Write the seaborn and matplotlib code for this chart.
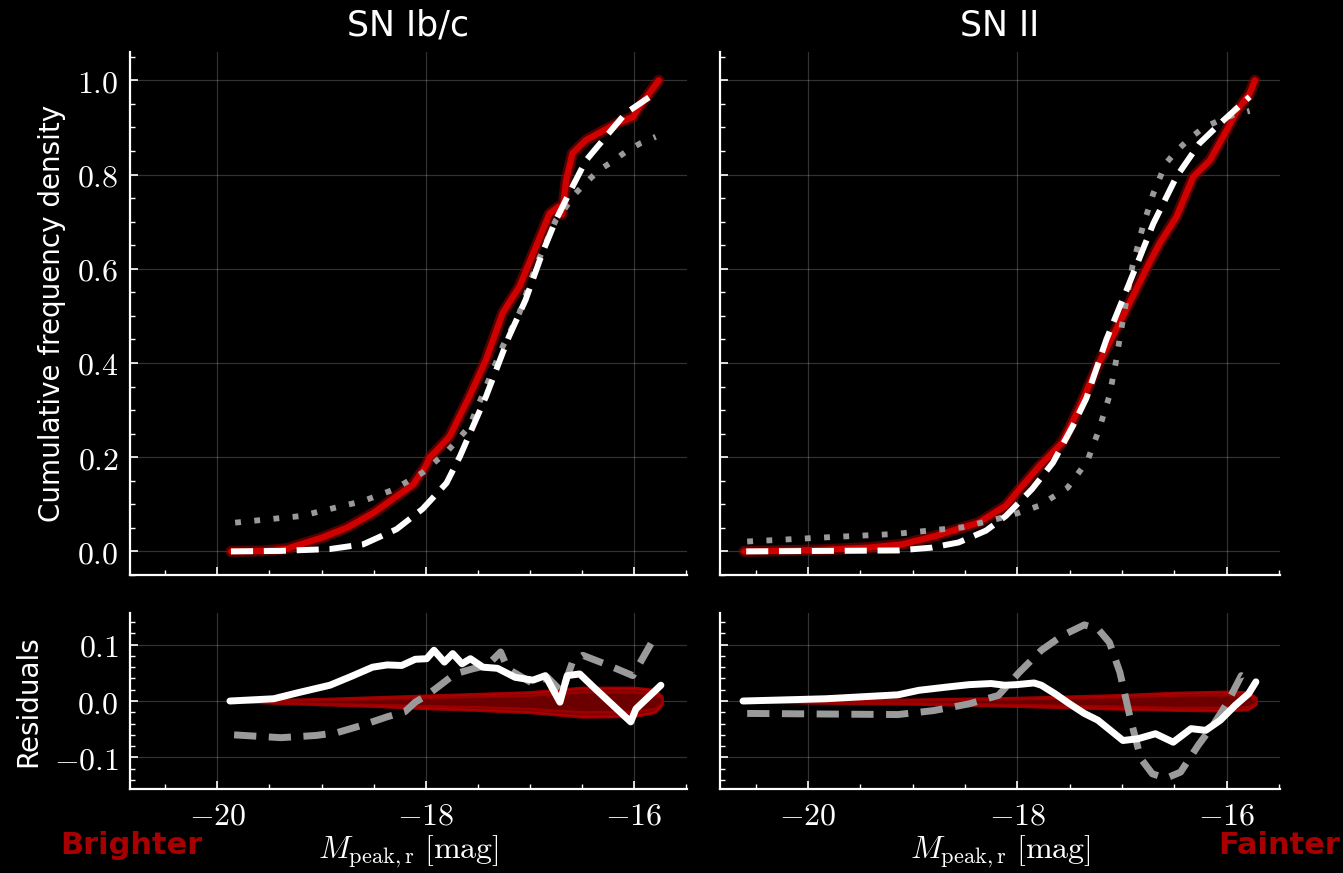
import matplotlib
matplotlib.use("Agg")
import numpy as np
import pandas as pd
import seaborn as sns
import matplotlib.pyplot as plt
from matplotlib import patheffects as pe
from matplotlib.ticker import MultipleLocator, FuncFormatter

# ---------------- data ----------------
titles = ["SN Ib/c", "SN II"]

# SN Ib/c : observed cumulative distribution (red), model A (white dashed), model B (gray dotted)
ibc_obs_x = [-19.87, -19.56, -19.33, -19.0, -18.76, -18.5, -18.28, -18.12, -18.0, -17.96, -17.9, -17.77,
             -17.58, -17.42, -17.26, -17.1, -16.94, -16.81, -16.72, -16.69, -16.65, -16.59, -16.46,
             -16.17, -16.01, -15.95, -15.76]
ibc_obs_y = [0.0, 0.001, 0.006, 0.029, 0.05, 0.082, 0.117, 0.142, 0.181, 0.2, 0.213, 0.244,
             0.329, 0.407, 0.506, 0.562, 0.647, 0.717, 0.732, 0.715, 0.788, 0.845, 0.873,
             0.908, 0.922, 0.943, 1.0]
ibc_modA_x = [-19.87, -19.4, -18.92, -18.6, -18.28, -18.03, -17.8, -17.67, -17.42, -17.2, -17.04,
              -16.88, -16.75, -16.59, -16.46, -16.27, -16.08, -15.78]
ibc_modA_y = [0.0, 0.001, 0.005, 0.015, 0.047, 0.09, 0.145, 0.202, 0.329, 0.456, 0.534,
              0.633, 0.703, 0.774, 0.83, 0.88, 0.93, 0.975]
ibc_modB_x = [-19.83, -19.52, -19.2, -18.92, -18.6, -18.31, -18.03, -17.79, -17.58, -17.42, -17.26,
              -17.1, -16.94, -16.75, -16.65, -16.56, -16.45, -16.33, -16.21, -16.08, -15.94, -15.79]
ibc_modB_y = [0.061, 0.068, 0.075, 0.09, 0.107, 0.131, 0.167, 0.213, 0.265, 0.35, 0.435,
              0.506, 0.606, 0.703, 0.732, 0.76, 0.785, 0.81, 0.827, 0.848, 0.866, 0.88]

# SN II
ii_obs_x = [-20.61, -19.9, -19.42, -19.1, -18.78, -18.37, -18.11, -17.98, -17.79, -17.57, -17.41,
            -17.22, -16.96, -16.74, -16.64, -16.48, -16.32, -16.16, -16.0, -15.9, -15.78, -15.73]
ii_obs_y = [0.0, 0.003, 0.008, 0.015, 0.033, 0.061, 0.097, 0.132, 0.181, 0.231, 0.304,
            0.4, 0.513, 0.612, 0.654, 0.71, 0.795, 0.83, 0.894, 0.936, 0.972, 1.0]
ii_modA_x = [-20.59, -19.14, -18.82, -18.56, -18.3, -18.11, -17.86, -17.66, -17.47, -17.34, -17.15,
             -16.93, -16.70, -16.48, -16.26, -16.03, -15.78]
ii_modA_y = [0.0, 0.002, 0.008, 0.019, 0.044, 0.075, 0.132, 0.188, 0.266, 0.325, 0.449,
             0.569, 0.696, 0.795, 0.866, 0.915, 0.965]
ii_modB_x = [-20.58, -19.81, -19.17, -18.53, -18.08, -17.79, -17.52, -17.33, -17.22, -17.12, -17.06,
             -17.0, -16.9, -16.8, -16.7, -16.58, -16.47, -16.35, -16.23, -16.08, -15.94, -15.78]
ii_modB_y = [0.021, 0.03, 0.037, 0.051, 0.075, 0.097, 0.135, 0.192, 0.258, 0.33, 0.4,
             0.48, 0.605, 0.69, 0.76, 0.824, 0.852, 0.877, 0.898, 0.914, 0.926, 0.935]

# residuals (data - model)
ibc_resA_x = [-19.88, -19.46, -19.22, -18.92, -18.71, -18.51, -18.37, -18.23, -18.10, -17.99, -17.92,
              -17.82, -17.74, -17.65, -17.57, -17.45, -17.31, -17.14, -16.97, -16.85, -16.71, -16.64,
              -16.52, -16.39, -16.03, -15.98, -15.74]
ibc_resA_y = [0.0, 0.004, 0.015, 0.028, 0.044, 0.06, 0.064, 0.063, 0.074, 0.075, 0.09,
              0.069, 0.084, 0.066, 0.075, 0.06, 0.058, 0.042, 0.037, 0.045, -0.002, 0.045,
              0.048, 0.025, -0.037, -0.014, 0.028]
ibc_resB_x = [-19.84, -19.39, -19.05, -18.85, -18.61, -18.37, -18.2, -18.10, -17.99, -17.86, -17.72,
              -17.55, -17.41, -17.28, -17.21, -17.10, -16.97, -16.83, -16.69, -16.59, -16.49, -16.28,
              -16.01, -15.81]
ibc_resB_y = [-0.06, -0.065, -0.061, -0.056, -0.043, -0.028, -0.019, -0.002, 0.01, 0.028, 0.048,
              0.057, 0.063, 0.087, 0.057, 0.045, 0.031, 0.042, 0.016, 0.069, 0.081, 0.066,
              0.045, 0.11]
ii_resA_x = [-20.62, -19.83, -19.14, -18.94, -18.66, -18.46, -18.25, -18.12, -18.01, -17.84, -17.77,
             -17.64, -17.5, -17.36, -17.23, -17.09, -16.99, -16.85, -16.68, -16.51, -16.34, -16.2,
             -16.06, -15.92, -15.79, -15.72]
ii_resA_y = [0.0, 0.004, 0.011, 0.019, 0.025, 0.029, 0.031, 0.028, 0.029, 0.032, 0.028,
             0.013, -0.005, -0.022, -0.034, -0.055, -0.07, -0.067, -0.058, -0.073, -0.049, -0.052,
             -0.034, -0.008, 0.013, 0.034]
ii_resB_x = [-20.58, -19.14, -18.80, -18.46, -18.18, -17.98, -17.77, -17.57, -17.36, -17.23, -17.12,
             -17.02, -16.92, -16.82, -16.71, -16.58, -16.44, -16.27, -16.13, -15.99, -15.86, -15.75]
ii_resB_y = [-0.022, -0.024, -0.017, -0.005, 0.01, 0.051, 0.09, 0.116, 0.135, 0.128, 0.104,
             0.051, -0.031, -0.102, -0.129, -0.137, -0.126, -0.078, -0.043, -0.002, 0.045, 0.033]

# bootstrap uncertainty bands around zero residual
ibc_band_x = [-19.88, -19.5, -19.0, -18.5, -18.0, -17.5, -17.0, -16.5, -16.0, -15.8, -15.73]
ibc_band_out_hi = [0.0, 0.002, 0.004, 0.007, 0.010, 0.013, 0.016, 0.024, 0.024, 0.020, 0.008]
ibc_band_out_lo = [0.0, -0.003, -0.006, -0.009, -0.013, -0.016, -0.020, -0.028, -0.027, -0.020, -0.006]
ibc_band_in_hi = [0.0, 0.001, 0.002, 0.004, 0.006, 0.008, 0.010, 0.016, 0.016, 0.013, 0.004]
ibc_band_in_lo = [0.0, -0.002, -0.004, -0.006, -0.008, -0.010, -0.013, -0.019, -0.018, -0.013, -0.003]
ii_band_x = [-20.62, -20.0, -19.0, -18.0, -17.0, -16.5, -16.0, -15.8, -15.72]
ii_band_out_hi = [0.0, 0.002, 0.003, 0.006, 0.011, 0.015, 0.017, 0.016, 0.006]
ii_band_out_lo = [0.0, -0.003, -0.005, -0.009, -0.014, -0.016, -0.017, -0.015, -0.006]
ii_band_in_hi = [0.0, 0.001, 0.002, 0.004, 0.007, 0.010, 0.011, 0.010, 0.003]
ii_band_in_lo = [0.0, -0.002, -0.003, -0.006, -0.009, -0.011, -0.011, -0.010, -0.003]

# ---------------- style ----------------
sns.set_theme(style="dark")
plt.rcParams.update({
    "figure.facecolor": "black",
    "axes.facecolor": "black",
    "savefig.facecolor": "black",
    "axes.edgecolor": "white",
    "axes.labelcolor": "white",
    "text.color": "white",
    "xtick.color": "white",
    "ytick.color": "white",
    "mathtext.fontset": "cm",
    "axes.unicode_minus": True,
})
plt.rcParams["font.family"] = ["DejaVu Sans"]

RED = "#d00000"
GRAY = "#9a9a9a"

fig = plt.figure(figsize=(13.43, 8.73), dpi=100)
top_axes = [fig.add_axes([0.0968, 0.3414, 0.4147, 0.599]),
            fig.add_axes([0.5361, 0.3414, 0.4170, 0.599])]
bot_axes = [fig.add_axes([0.0968, 0.0962, 0.4147, 0.2016]),
            fig.add_axes([0.5361, 0.0962, 0.4170, 0.2016])]

panels = [
    dict(obs=(ibc_obs_x, ibc_obs_y), A=(ibc_modA_x, ibc_modA_y), B=(ibc_modB_x, ibc_modB_y),
         rA=(ibc_resA_x, ibc_resA_y), rB=(ibc_resB_x, ibc_resB_y),
         band=(ibc_band_x, ibc_band_out_lo, ibc_band_out_hi, ibc_band_in_lo, ibc_band_in_hi)),
    dict(obs=(ii_obs_x, ii_obs_y), A=(ii_modA_x, ii_modA_y), B=(ii_modB_x, ii_modB_y),
         rA=(ii_resA_x, ii_resA_y), rB=(ii_resB_x, ii_resB_y),
         band=(ii_band_x, ii_band_out_lo, ii_band_out_hi, ii_band_in_lo, ii_band_in_hi)),
]

def fmt1(v, p):
    if abs(v) < 1e-9:
        v = 0.0
    return f"${v:.1f}$"

def fmt0(v, p):
    return f"${v:.0f}$"

def style_axis(ax, ymaj, ymin, yfmt):
    for s in ["top", "right"]:
        ax.spines[s].set_visible(False)
    for s in ["left", "bottom"]:
        ax.spines[s].set_color("white")
        ax.spines[s].set_linewidth(1.6)
    ax.set_xlim(-20.84, -15.49)
    ax.xaxis.set_major_locator(MultipleLocator(2))
    ax.xaxis.set_minor_locator(MultipleLocator(0.5))
    ax.yaxis.set_major_locator(MultipleLocator(ymaj))
    ax.yaxis.set_minor_locator(MultipleLocator(ymin))
    ax.xaxis.set_major_formatter(FuncFormatter(fmt0))
    ax.yaxis.set_major_formatter(FuncFormatter(yfmt))
    ax.tick_params(which="major", direction="in", length=6, width=1.2, labelsize=23,
                   left=True, bottom=True, top=False, right=False, pad=8)
    ax.tick_params(which="minor", direction="in", length=3.5, width=1.0,
                   left=True, bottom=True, top=False, right=False)
    ax.grid(True, which="major", color="white", alpha=0.2, linewidth=0.9)
    ax.set_axisbelow(True)

for i, (axt, axb, p) in enumerate(zip(top_axes, bot_axes, panels)):
    # --- top: cumulative distributions
    df_obs = pd.DataFrame({"x": p["obs"][0], "y": p["obs"][1]})
    sns.lineplot(data=df_obs, x="x", y="y", ax=axt, color=RED, lw=4.5, sort=False,
                 path_effects=[pe.Stroke(linewidth=8, foreground="#8a0000", alpha=0.6), pe.Normal()],
                 zorder=3)
    df_B = pd.DataFrame({"x": p["B"][0], "y": p["B"][1]})
    sns.lineplot(data=df_B, x="x", y="y", ax=axt, color=GRAY, lw=4.2, sort=False,
                 linestyle=(0, (1, 2.3)), zorder=4)
    df_A = pd.DataFrame({"x": p["A"][0], "y": p["A"][1]})
    sns.lineplot(data=df_A, x="x", y="y", ax=axt, color="white", lw=4.3, sort=False,
                 linestyle=(0, (3.7, 1.8)), zorder=5)
    style_axis(axt, 0.2, 0.05, fmt1)
    axt.set_ylim(-0.05, 1.06)
    axt.tick_params(labelbottom=False)
    axt.set_xlabel("")
    axt.set_ylabel("")
    axt.set_title(titles[i], fontsize=25, color="white", pad=12)

    # --- bottom: residuals
    bx, olo, ohi, ilo, ihi = p["band"]
    axb.fill_between(bx, olo, ohi, facecolor="#a80000", edgecolor="#c00000", alpha=0.8,
                     linewidth=2, zorder=2)
    axb.fill_between(bx, ilo, ihi, facecolor="#6a0000", edgecolor="#a00000", alpha=0.9,
                     linewidth=1.5, zorder=2)
    df_rB = pd.DataFrame({"x": p["rB"][0], "y": p["rB"][1]})
    sns.lineplot(data=df_rB, x="x", y="y", ax=axb, color=GRAY, lw=5, sort=False,
                 linestyle=(0, (3.2, 1.8)), zorder=4)
    df_rA = pd.DataFrame({"x": p["rA"][0], "y": p["rA"][1]})
    sns.lineplot(data=df_rA, x="x", y="y", ax=axb, color="white", lw=5, sort=False, zorder=5)
    style_axis(axb, 0.1, 0.02, fmt1)
    axb.set_ylim(-0.156, 0.156)
    axb.set_xlabel(r"$M_{\mathrm{peak,r}}\ [\mathrm{mag}]$", fontsize=23, color="white", labelpad=2)
    axb.set_ylabel("")

    if i == 1:
        axt.tick_params(labelleft=False)
        axb.tick_params(labelleft=False)

top_axes[0].set_ylabel("Cumulative frequency density", fontsize=20, color="white", labelpad=8)
bot_axes[0].set_ylabel("Residuals", fontsize=20, color="white", labelpad=8)

fig.text(0.045, 0.031, "Brighter", fontsize=22, fontweight="bold", color="#a80000",
         ha="left", va="center")
fig.text(0.998, 0.031, "Fainter", fontsize=22, fontweight="bold", color="#a80000",
         ha="right", va="center")

fig.savefig("out.png", dpi=100, facecolor="black")
